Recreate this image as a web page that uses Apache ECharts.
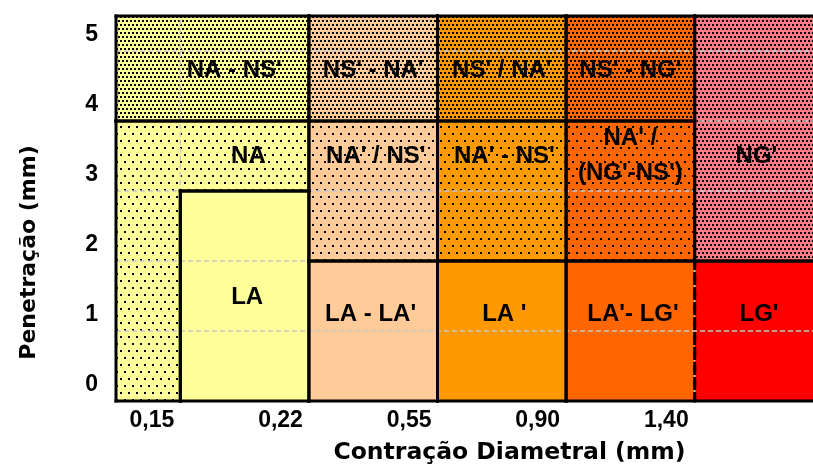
<!DOCTYPE html>
<html><head><meta charset="utf-8">
<script src="https://cdn.jsdelivr.net/npm/echarts@6/dist/echarts.min.js"></script>
<style>html,body{margin:0;padding:0;background:#fff}#c{width:813px;height:466px}</style>
</head><body><div id="c"></div>
<script>
// ---- data ----
// x-axis boundary positions (category boundaries) and their tick labels
const xBoundaries = [0.5, 1.5, 2.5, 3.5, 4.5];
const xTickLabels = ['0,15', '0,22', '0,55', '0,90', '1,40'];
const yTicks = [0, 1, 2, 3, 4, 5];
const xTitle = 'Contração Diametral (mm)';
const yTitle = 'Penetração (mm)';

// regions: name, polygon vertices in data units (x = boundary index space, y = penetração)
const regionNames = ["NA - NS'", "NS' - NA'", "NS' / NA'", "NS' - NG'", "NG'",
  "NA", "NA' / NS'", "NA' - NS'", "NA' /\n(NG'-NS')",
  "LA", "LA - LA'", "LA '", "LA'- LG'", "LG'"];
const regionPolys = [
  [[0,4],[1.5,4],[1.5,5.5],[0,5.5]],
  [[1.5,4],[2.5,4],[2.5,5.5],[1.5,5.5]],
  [[2.5,4],[3.5,4],[3.5,5.5],[2.5,5.5]],
  [[3.5,4],[4.5,4],[4.5,5.5],[3.5,5.5]],
  [[4.5,2],[5.5,2],[5.5,5.5],[4.5,5.5]],
  [[0,0],[0.5,0],[0.5,3],[1.5,3],[1.5,4],[0,4]],
  [[1.5,2],[2.5,2],[2.5,4],[1.5,4]],
  [[2.5,2],[3.5,2],[3.5,4],[2.5,4]],
  [[3.5,2],[4.5,2],[4.5,4],[3.5,4]],
  [[0.5,0],[1.5,0],[1.5,3],[0.5,3]],
  [[1.5,0],[2.5,0],[2.5,2],[1.5,2]],
  [[2.5,0],[3.5,0],[3.5,2],[2.5,2]],
  [[3.5,0],[4.5,0],[4.5,2],[3.5,2]],
  [[4.5,0],[5.5,0],[5.5,2],[4.5,2]]
];
const regionLabelAt = [
  [0.92,4.72],[2.0,4.72],[3.0,4.72],[4.0,4.72],[4.98,3.5],
  [1.03,3.5],[2.02,3.5],[3.02,3.5],[4.0,3.5],
  [1.02,1.48],[1.98,1.24],[3.02,1.24],[4.02,1.24],[5.0,1.24]
];
// boundary drawn dashed (between LA'-LG' and LG')
const dashedEdges = [[[4.5,0],[4.5,2]]];

// ---- styles ----
function pat(base, w, h, dots, size) {
  const c = document.createElement('canvas'); c.width = w; c.height = h;
  const g = c.getContext('2d'); g.fillStyle = base; g.fillRect(0, 0, w, h);
  g.fillStyle = '#000'; dots.forEach(d => g.fillRect(d[0], d[1], size, size));
  return {image: c, repeat: 'repeat'};
}
const dense = b => pat(b, 4, 8, [[0,0],[2,4]], 2);
const sparse = b => pat(b, 8, 14, [[0,0],[4,7]], 2);
const YEL = '#FFFF99', PEA = '#FFCC99', ORA = '#FF9900', DOR = '#FF6600', RED = '#FF0000', PNK = '#FF7C86';
const regionFill = [
  dense(YEL), dense(PEA), dense(ORA), dense(DOR), dense(PNK),
  sparse(YEL), sparse(PEA), sparse(ORA), sparse(DOR),
  YEL, PEA, ORA, DOR, RED
];

function sameEdge(a, b, e) {
  return (a[0]===e[0][0]&&a[1]===e[0][1]&&b[0]===e[1][0]&&b[1]===e[1][1]) ||
         (a[0]===e[1][0]&&a[1]===e[1][1]&&b[0]===e[0][0]&&b[1]===e[0][1]);
}

const XMAX = 5.42;
const chart = echarts.init(document.getElementById('c'));
const idx = regionNames.map((_, i) => [i]);
chart.setOption({
  animation: false,
  grid: {left: 116, right: 0, top: 16, bottom: 65, containLabel: false, outerBoundsMode: 'none'},
  xAxis: {
    type: 'value', min: 0, max: XMAX, interval: 0.5,
    axisLine: {show: false}, axisTick: {show: false}, splitLine: {show: false},
    axisLabel: {
      showMaxLabel: false,
      formatter: v => { const k = xBoundaries.indexOf(v); return k >= 0 ? xTickLabels[k] : ''; },
      align: 'right', padding: [0, 6, 0, 0], margin: 8,
      fontFamily: 'Liberation Sans, Arial', fontWeight: 'bold', fontSize: 23, color: '#000'
    },
    name: xTitle, nameLocation: 'middle', nameGap: 40,
    nameTextStyle: {fontFamily: 'DejaVu Sans', fontWeight: 'bold', fontSize: 23.5, color: '#000', padding: [0, 0, 0, 90]}
  },
  yAxis: {
    type: 'value', min: 0, max: 5.5, interval: 1,
    axisLine: {show: false}, axisTick: {show: false}, splitLine: {show: false},
    axisLabel: {
      formatter: v => (yTicks.indexOf(v) >= 0 ? String(v) : ''),
      verticalAlign: 'bottom', lineHeight: 32, margin: 18,
      fontFamily: 'Liberation Sans, Arial', fontWeight: 'bold', fontSize: 23, color: '#000'
    },
    name: yTitle, nameLocation: 'middle', nameGap: 76, nameRotate: 90,
    nameTextStyle: {fontFamily: 'DejaVu Sans', fontWeight: 'bold', fontSize: 22, color: '#000', padding: [0, 88, 0, 0]}
  },
  series: [
    {
      type: 'custom', z: 1, silent: true, data: idx,
      renderItem: (params, api) => {
        const i = params.dataIndex;
        return {type: 'polygon', shape: {points: regionPolys[i].map(p => api.coord(p))},
                style: {fill: regionFill[i], stroke: null}};
      }
    },
    {
      type: 'custom', z: 2, silent: true, data: yTicks.filter(v => v > 0).map(v => [v]),
      renderItem: (params, api) => {
        const v = api.value(0);
        const a = api.coord([0, v]), b = api.coord([XMAX, v]);
        return {type: 'line', shape: {x1: a[0], y1: a[1], x2: b[0], y2: b[1]},
                style: {stroke: '#C8C8C8', lineWidth: 1.5, lineDash: [5, 3]}};
      }
    },
    {
      type: 'custom', z: 2, silent: true, data: xBoundaries.map(v => [v]),
      renderItem: (params, api) => {
        const v = api.value(0);
        const a = api.coord([v, 0]), b = api.coord([v, 5.5]);
        return {type: 'line', shape: {x1: a[0], y1: a[1], x2: b[0], y2: b[1]},
                style: {stroke: '#C8C8C8', lineWidth: 1.5, lineDash: [5, 3]}};
      }
    },
    {
      type: 'custom', z: 3, silent: true, data: idx,
      renderItem: (params, api) => {
        const i = params.dataIndex;
        const pts = regionPolys[i];
        const children = [];
        for (let k = 0; k < pts.length; k++) {
          const p = pts[k], q = pts[(k + 1) % pts.length];
          const dashed = dashedEdges.some(e => sameEdge(p, q, e));
          const a = api.coord(p), b = api.coord(q);
          children.push({type: 'line', shape: {x1: a[0], y1: a[1], x2: b[0], y2: b[1]},
            style: {stroke: '#000', lineWidth: 3, lineCap: dashed ? 'butt' : 'square', lineDash: dashed ? [9, 6] : null}});
        }
        const c = api.coord(regionLabelAt[i]);
        children.push({type: 'text', x: c[0], y: c[1],
          style: {text: regionNames[i], align: 'center', verticalAlign: 'middle', lineHeight: 35,
                  font: 'bold 24px "Liberation Sans", Arial', fill: '#000'}});
        return {type: 'group', children};
      }
    }
  ]
});
</script></body></html>
